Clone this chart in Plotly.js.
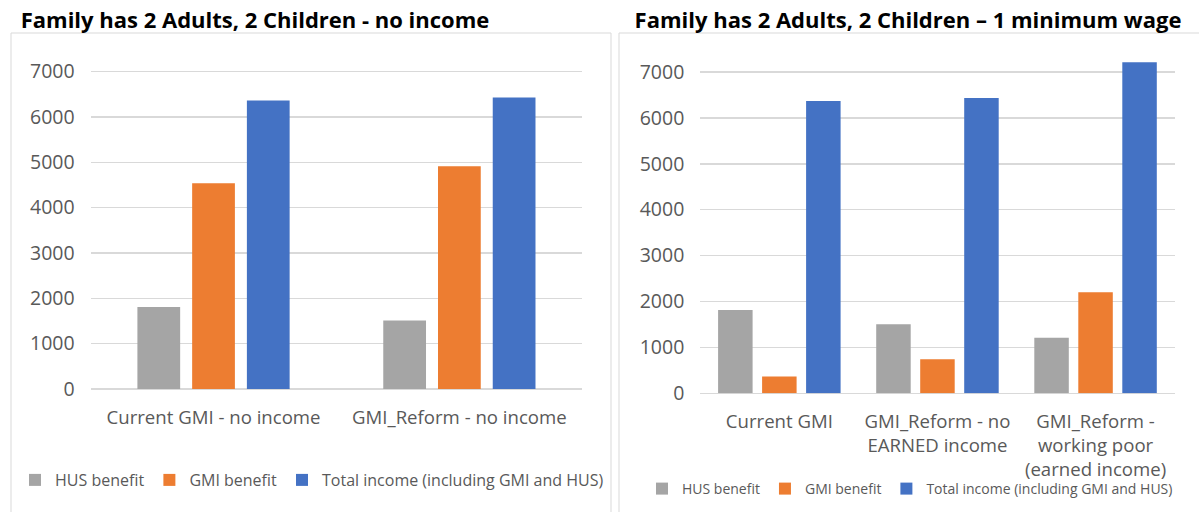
<!DOCTYPE html>
<html>
<head>
<meta charset="utf-8">
<script src="https://cdn.plot.ly/plotly-3.0.1.min.js"></script>
<style>
  html, body { margin: 0; padding: 0; background: #ffffff; }
  #wrap { position: relative; width: 1199px; height: 512px; overflow: hidden; }
  #left { position: absolute; left: 0; top: 0; width: 615px; height: 512px; }
  #right { position: absolute; left: 615px; top: 0; width: 584px; height: 512px; }
</style>
</head>
<body>
<div id="wrap"><div id="left"></div><div id="right"></div></div>
<script>
// ---- data ----
const seriesNames = ["HUS benefit", "GMI benefit", "Total income (including GMI and HUS)"];
const seriesColors = ["#a5a5a5", "#ed7d31", "#4472c4"];

const leftTitle = "Family has 2 Adults, 2 Children - no income";
const leftCategories = ["Current GMI - no income", "GMI_Reform - no income"];
const leftHUS = [1810, 1510];
const leftGMI = [4540, 4915];
const leftTotal = [6365, 6430];

const rightTitle = "Family has 2 Adults, 2 Children \u2013 1 minimum wage";
const rightCategories = ["Current GMI", "GMI_Reform - no<br>EARNED income", "GMI_Reform -<br>working poor<br>(earned income)"];
const rightHUS = [1815, 1505, 1210];
const rightGMI = [365, 740, 2200];
const rightTotal = [6365, 6430, 7210];

const yTicks = [0, 1000, 2000, 3000, 4000, 5000, 6000, 7000];

// ---- helpers ----
const FONT = "Open Sans, Noto Sans, sans-serif";
const GRID = "#d9d9d9";
const TXT = "#595959";

function traces(cats, vals) {
  return vals.map((v, i) => ({
    type: "bar",
    x: cats,
    y: v,
    name: seriesNames[i],
    marker: { color: seriesColors[i], line: { width: 0 } },
    hoverinfo: "x+y+name"
  }));
}

function layout(opts) {
  return {
    width: opts.w, height: 512,
    margin: { l: 0, r: 0, t: 0, b: 0, pad: 0 },
    paper_bgcolor: "#ffffff",
    plot_bgcolor: "#ffffff",
    font: { family: FONT, color: TXT },
    barmode: "group",
    bargap: opts.bargap,
    bargroupgap: opts.bargroupgap,
    showlegend: true,
    title: {
      text: opts.title,
      font: { family: FONT, size: 22, color: "#000000", weight: "bold" },
      x: opts.titleX, xref: "container", xanchor: "center",
      y: 0.961, yref: "container", yanchor: "middle"
    },
    xaxis: {
      domain: opts.xdom,
      type: "category",
      showgrid: false, showline: false, zeroline: false,
      ticks: "",
      tickfont: { family: FONT, size: 18.6, color: TXT },
      ticklabelstandoff: 15,
      fixedrange: true
    },
    yaxis: {
      domain: opts.ydom,
      range: [0, 7500],
      tickvals: yTicks,
      tickformat: "d",
      showgrid: true, gridcolor: GRID, gridwidth: 1.5,
      zeroline: true, zerolinecolor: GRID, zerolinewidth: 1.5,
      showline: false, ticks: "",
      tickfont: { family: FONT, size: 19.5, color: TXT },
      ticklabelstandoff: 15,
      fixedrange: true
    },
    legend: {
      orientation: "h",
      x: opts.legX, xanchor: "center",
      y: opts.legY, yanchor: "middle",
      font: { family: FONT, size: opts.legSize, color: TXT },
      itemwidth: 30,
      traceorder: "normal",
      bgcolor: "rgba(0,0,0,0)"
    },
    shapes: [{
      type: "rect", xref: "paper", yref: "paper",
      x0: opts.box[0], x1: opts.box[1], y0: -0.05, y1: opts.box[2],
      line: { color: GRID, width: 1 }, fillcolor: "rgba(0,0,0,0)", layer: "below"
    }]
  };
}

const cfg = { displayModeBar: false, staticPlot: true };

Plotly.newPlot("left",
  traces(leftCategories, [leftHUS, leftGMI, leftTotal]),
  layout({
    w: 615, title: leftTitle, titleX: 255 / 615,
    xdom: [90.6 / 615, 582.3 / 615],
    ydom: [(512 - 389) / 512, (512 - 49) / 512],
    bargap: 0.332, bargroupgap: 0.219,
    legX: 312 / 615, legY: (512 - 480) / 512, legSize: 16,
    box: [11 / 615, 611 / 615, (512 - 33) / 512]
  }), cfg);

Plotly.newPlot("right",
  traces(rightCategories, [rightHUS, rightGMI, rightTotal]),
  layout({
    w: 584, title: rightTitle, titleX: (908 - 615) / 584,
    xdom: [(700.3 - 615) / 584, (1174.6 - 615) / 584],
    ydom: [(512 - 393.3) / 512, (512 - 49) / 512],
    bargap: 0.165, bargroupgap: 0.216,
    legX: (910 - 615) / 584, legY: (512 - 489) / 512, legSize: 14,
    box: [(619 - 615) / 584, 1.05, (512 - 33) / 512]
  }), cfg);
</script>
</body>
</html>
